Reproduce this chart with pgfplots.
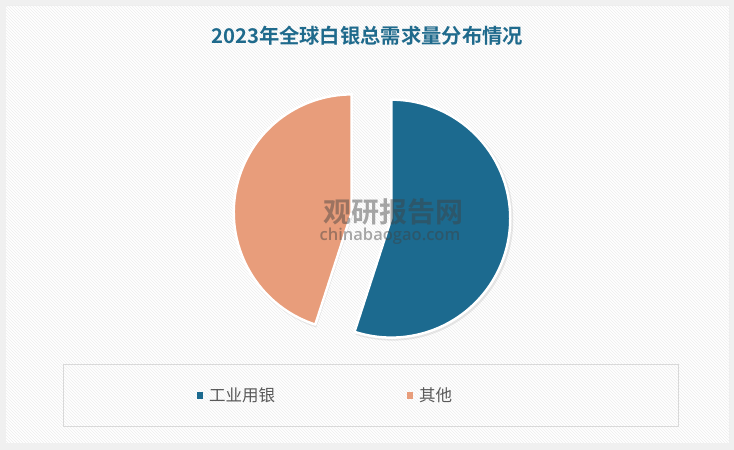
\documentclass[border=0pt]{standalone}
\usepackage{pgfplots}
\usepackage{pgfplotstable}
\pgfplotsset{compat=1.18}
\usetikzlibrary{patterns}
\usepackage{fontspec}
\newfontfamily\cjk{Noto Sans CJK SC}[BoldFont={Noto Sans CJK SC Bold}]
\newfontfamily\wmfont{Open Sans}[BoldFont={Open Sans Semibold}]
\definecolor{cblue}{HTML}{1C6A8F}
\definecolor{corange}{HTML}{E89D7B}
\definecolor{ctitle}{HTML}{1F6A8C}
\definecolor{ctext}{HTML}{595959}

\pgfplotstableread{
idx value
0 55
1 45
}\piedata

\begin{document}
\begin{tikzpicture}
\pgfplotstablegetelem{0}{value}\of\piedata \let\va\pgfplotsretval
\pgfplotstablegetelem{1}{value}\of\piedata \let\vb\pgfplotsretval
\pgfmathsetmacro{\tot}{\va+\vb}
\pgfmathsetmacro{\fa}{\va/\tot}
\pgfmathsetmacro{\fb}{\vb/\tot}
\pgfmathsetmacro{\aend}{90-360*\fa}
\pgfmathsetmacro{\bend}{\aend-360*\fb}
\pgfmathsetmacro{\amid}{(90+\aend)/2}
\pgfmathsetmacro{\bmid}{(\aend+\bend)/2}
\pgfmathsetmacro{\cx}{371.5}
\pgfmathsetmacro{\cy}{234.5}
\pgfmathsetmacro{\ex}{20}
\pgfmathsetmacro{\ax}{\cx+\ex*cos(\amid)}
\pgfmathsetmacro{\ay}{\cy+\ex*sin(\amid)}
\pgfmathsetmacro{\bx}{\cx+\ex*cos(\bmid)}
\pgfmathsetmacro{\by}{\cy+\ex*sin(\bmid)}
\begin{axis}[
  x=1pt, y=1pt, xmin=0, xmax=734, ymin=0, ymax=450,
  scale only axis, hide axis, clip=false,
]
% background
\fill[black!6] (axis cs:0,0) rectangle (axis cs:734,450);
\fill[white] (axis cs:6,7) rectangle (axis cs:729,444);
\fill[pattern=north west lines, pattern color=black!7] (axis cs:6,7) rectangle (axis cs:729,444);
% title
\node[font={\cjk\bfseries\fontsize{20.3}{23}\selectfont}, text=ctitle] at (axis cs:367,414.5) {2023年全球白银总需求量分布情况};
% shadows
\fill[black!25, opacity=0.35] (axis cs:\ax+1.5,\ay-1.5) -- ++(90:120.5) arc[start angle=90, end angle=\aend, radius=120.5] -- cycle;
\fill[black!25, opacity=0.35] (axis cs:\bx+1.5,\by-1.5) -- ++(\aend:119.5) arc[start angle=\aend, end angle=\bend, radius=119.5] -- cycle;
% slices
\filldraw[fill=cblue, draw=white, line width=2.5pt, line join=round] (axis cs:\ax,\ay) -- ++(90:119) arc[start angle=90, end angle=\aend, radius=119] -- cycle;
\filldraw[fill=corange, draw=white, line width=2.5pt, line join=round] (axis cs:\bx,\by) -- ++(\aend:118) arc[start angle=\aend, end angle=\bend, radius=118] -- cycle;
% watermark
\node[font={\cjk\bfseries\fontsize{28}{30}\selectfont}, text=black!75, opacity=0.45] at (axis cs:393,238) {观研报告网};
\node[font={\wmfont\bfseries\fontsize{16.5}{18}\selectfont}, text=black!75, opacity=0.45] at (axis cs:390,214) {chinabaogao.com};
% legend box
\draw[black!15, line width=1pt] (axis cs:63,23) rectangle (axis cs:678,85);
\fill[cblue] (axis cs:196.8,51.3) rectangle (axis cs:203.2,57.7);
\node[anchor=west, font={\cjk\fontsize{16.5}{18}\selectfont}, text=ctext, inner sep=0pt] at (axis cs:209,54.5) {工业用银};
\fill[corange] (axis cs:406.8,51.3) rectangle (axis cs:413.2,57.7);
\node[anchor=west, font={\cjk\fontsize{16.5}{18}\selectfont}, text=ctext, inner sep=0pt] at (axis cs:419,54.5) {其他};
\end{axis}
\end{tikzpicture}
\end{document}
